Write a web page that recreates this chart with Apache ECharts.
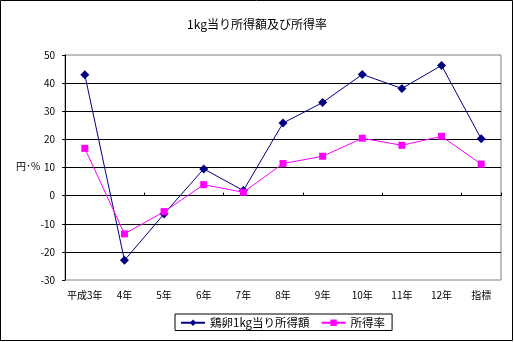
<!DOCTYPE html>
<html>
<head>
<meta charset="utf-8">
<script src="https://cdn.jsdelivr.net/npm/echarts@6/dist/echarts.min.js"></script>
<style>
html,body{margin:0;padding:0;background:#fff;}
#chart{width:514px;height:342px;}
</style>
</head>
<body>
<div id="chart"></div>
<script>
const categories = ['平成3年','4年','5年','6年','7年','8年','9年','10年','11年','12年','指標'];
const incomePerKg = [43, -23, -6.5, 9.5, 1.8, 25.8, 33.1, 43.1, 38.1, 46.3, 20.2];
const incomeRate = [16.8, -13.6, -5.7, 3.9, 1.2, 11.4, 14.0, 20.4, 17.9, 21.1, 11.2];
const seriesNames = ['鶏卵1kg当り所得額', '所得率'];
const titleText = '1kg当り所得額及び所得率';
const yAxisTitle = '円･%';

const FONT = '"Noto Sans CJK JP", "Noto Sans", sans-serif';
const chart = echarts.init(document.getElementById('chart'), null, {renderer: 'canvas'});
chart.setOption({
  animation: false,
  backgroundColor: '#fff',
  textStyle: {fontFamily: FONT, color: '#000'},
  title: {
    text: titleText,
    left: 'center',
    top: 13,
    textStyle: {fontFamily: FONT, fontSize: 12, fontWeight: 'normal', color: '#000'}
  },
  graphic: [
    {type: 'rect', shape: {x: 0.5, y: 0.5, width: 512, height: 340}, style: {fill: null, stroke: '#000', lineWidth: 1}, silent: true},
    {type: 'text', left: 16, top: 161, style: {text: yAxisTitle, font: '10px ' + FONT, fill: '#000'}}
  ],
  legend: {
    left: 175,
    top: 314,
    padding: [3, 7, 2, 5],
    borderColor: '#000',
    borderWidth: 1,
    itemGap: 11,
    itemWidth: 24,
    itemHeight: 8,
    textStyle: {fontFamily: FONT, fontSize: 11.5, color: '#000'},
    data: seriesNames
  },
  grid: {
    left: 65, right: 13, top: 55, bottom: 62,
    show: true, borderColor: '#808080', borderWidth: 1, backgroundColor: '#fff'
  },
  xAxis: [
    {
      type: 'category',
      data: categories,
      position: 'bottom',
      axisLine: {show: false, onZero: false},
      axisTick: {show: false},
      axisLabel: {margin: 10, fontSize: 10, color: '#000', fontFamily: FONT, interval: 0},
      splitLine: {show: false}
    },
    {
      type: 'category',
      data: categories,
      position: 'bottom',
      axisLine: {show: true, onZero: true, lineStyle: {color: '#000', width: 1}},
      axisTick: {show: true, inside: true, length: 3, lineStyle: {color: '#000'}},
      axisLabel: {show: false},
      splitLine: {show: false}
    }
  ],
  yAxis: {
    type: 'value',
    min: -30, max: 50, interval: 10,
    axisLine: {show: true, lineStyle: {color: '#000', width: 1}},
    axisTick: {show: true, length: 3, lineStyle: {color: '#000'}},
    axisLabel: {margin: 10, fontSize: 10, color: '#000', fontFamily: FONT},
    splitLine: {show: true, showMinLine: false, showMaxLine: false, lineStyle: {color: '#000', width: 1}}
  },
  series: [
    {
      name: seriesNames[0],
      type: 'line',
      data: incomePerKg,
      symbol: 'diamond',
      symbolSize: 9,
      color: '#000080',
      lineStyle: {color: '#000080', width: 1},
      itemStyle: {color: '#000080'}
    },
    {
      name: seriesNames[1],
      type: 'line',
      data: incomeRate,
      symbol: 'rect',
      symbolSize: 7,
      color: '#FF00FF',
      lineStyle: {color: '#FF00FF', width: 1},
      itemStyle: {color: '#FF00FF'}
    }
  ]
});
</script>
</body>
</html>
